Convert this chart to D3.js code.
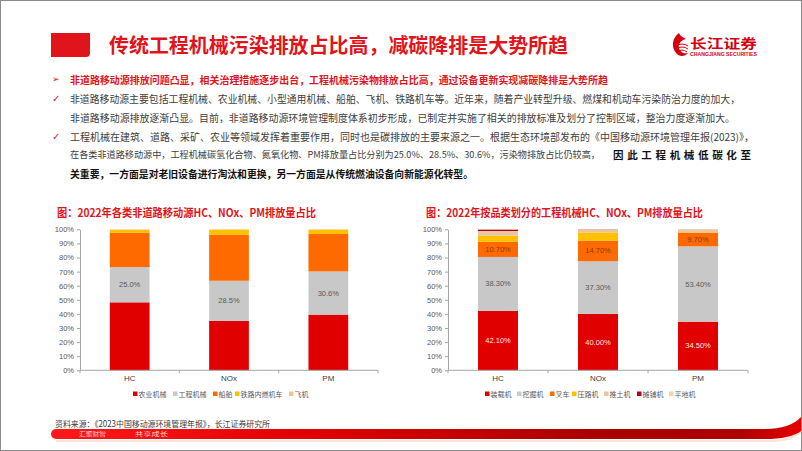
<!DOCTYPE html>
<html><head><meta charset="utf-8">
<script src="https://cdn.jsdelivr.net/npm/d3@7"></script>
<style>
html,body{margin:0;padding:0;background:#fff;}
svg{display:block;}
text{font-family:"Noto Sans CJK SC","Liberation Sans",sans-serif;}
</style></head>
<body>
<svg id="c" width="802" height="451"></svg>
<script>
// ---------- DATA ----------
const categories = ["HC", "NOx", "PM"];
const yTicks = [0, 10, 20, 30, 40, 50, 60, 70, 80, 90, 100];

// Chart 1: 2022年各类非道路移动源HC、NOx、PM排放量占比 (%)
const leftSeriesNames = ["农业机械", "工程机械", "船舶", "铁路内燃机车", "飞机"];
const agriMachinery = [48.2, 35.0, 39.5];
const constructionMachinery = [25.0, 28.5, 30.6];
const ships = [24.4, 32.6, 26.6];
const railwayLocomotives = [2.0, 3.7, 3.1];
const aircraft = [0.4, 0.2, 0.2];
const leftLabels = ["25.0%", "28.5%", "30.6%"];

// Chart 2: 2022年按品类划分的工程机械HC、NOx、PM排放量占比 (%)
const rightSeriesNames = ["装载机", "挖掘机", "叉车", "压路机", "推土机", "摊铺机", "平地机"];
const loaders = [42.1, 40.0, 34.5];
const excavators = [38.3, 37.3, 53.4];
const forklifts = [10.7, 14.7, 9.7];
const rollers = [4.3, 5.8, 0.3];
const bulldozers = [3.4, 1.8, 1.8];
const pavers = [1.0, 0.2, 0.1];
const graders = [0.2, 0.2, 0.2];

// ---------- STYLE ----------
const RED = "#E0141B";
const leftColors = ["#E00000", "#C8C8C8", "#FF6A00", "#FFC000", "#F2C48E"];
const rightColors = ["#E00000", "#C8C8C8", "#FF6A00", "#FFC000", "#EAC69A", "#B0001A", "#F9D2A8"];

const svg = d3.select("#c");
svg.append("rect").attr("x", 0).attr("y", 0).attr("width", 802).attr("height", 451).attr("fill", "#fff");

// ---------- HEADER ----------
svg.append("path").attr("d", "M51,33 H90 V53 Q90,57 86,57 H51 Z").attr("fill", RED);
function txt(x, y, s, size, opts = {}) {
  const t = svg.append("text").attr("x", x).attr("y", y).text(s)
    .attr("font-size", size).attr("dominant-baseline", "central")
    .attr("fill", opts.fill || "#404040")
    .attr("font-weight", opts.bold ? "bold" : "normal");
  if (opts.len) t.attr("textLength", opts.len).attr("lengthAdjust", opts.adjust || "spacingAndGlyphs");
  if (opts.anchor) t.attr("text-anchor", opts.anchor);
  if (opts.family) t.style("font-family", opts.family);
  return t;
}
txt(109, 44, "传统工程机械污染排放占比高，减碳降排是大势所趋", 20, {fill: RED, bold: true, len: 459});

// logo
const lg = svg.append("g");
lg.append("path").attr("d", "M679,33 C672,38 671,47 676,53 C679,57 685,57 688,53 C684,54 680,52 679,48 C678,44 681,40 686,39 C683,37 680,36 679,33 Z").attr("fill", "#D7000F");
lg.append("path").attr("d", "M676,46 Q682,42 688,46 M676,49 Q682,45 688,49 M677,52 Q682,48 687,52").attr("stroke", "#D7000F").attr("stroke-width", 1).attr("fill", "none");
txt(690, 42, "长江证券", 13, {fill: "#D7000F", bold: true, len: 67});
txt(690, 54, "CHANGJIANG SECURITIES", 4.5, {fill: "#D7000F", bold: true, len: 67, family: "Liberation Sans"});

// ---------- BODY TEXT ----------
txt(52, 79, "➢", 9, {fill: RED, family: "DejaVu Sans"});
txt(70, 79, "非道路移动源排放问题凸显，相关治理措施逐步出台，工程机械污染物排放占比高，通过设备更新实现减碳降排是大势所趋", 10, {fill: RED, bold: true, len: 538});
txt(52, 98, "✓", 10, {fill: RED, family: "DejaVu Sans"});
txt(70, 98, "非道路移动源主要包括工程机械、农业机械、小型通用机械、船舶、飞机、铁路机车等。近年来，随着产业转型升级、燃煤和机动车污染防治力度的加大，", 10, {len: 670});
txt(70, 117, "非道路移动源排放逐渐凸显。目前，非道路移动源环境管理制度体系初步形成，已制定并实施了相关的排放标准及划分了控制区域，整治力度逐渐加大。", 10, {len: 665});
txt(52, 136, "✓", 10, {fill: RED, family: "DejaVu Sans"});
txt(70, 136, "工程机械在建筑、道路、采矿、农业等领域发挥着重要作用，同时也是碳排放的主要来源之一。根据生态环境部发布的《中国移动源环境管理年报(2023)》，", 10, {len: 684});
txt(70, 154, "在各类非道路移动源中，工程机械碳氢化合物、氮氧化物、PM排放量占比分别为25.0%、28.5%、30.6%，污染物排放占比仍较高，", 9.3, {len: 530});
txt(613, 154, "因此工程机械低碳化至", 10.5, {fill: "#111", bold: true, len: 138, adjust: "spacing"});
txt(70, 173, "关重要，一方面是对老旧设备进行淘汰和更换，另一方面是从传统燃油设备向新能源化转型。", 10, {fill: "#111", bold: true, len: 403});

// ---------- CHARTS ----------
function drawChart(cfg) {
  const x = d3.scaleBand().domain(categories).range([cfg.x0, cfg.x1]).paddingInner(0.6).paddingOuter(0.3);
  const y = d3.scaleLinear().domain([0, 100]).range([370.3, 229.3]);
  const rows = categories.map((c, i) => {
    const r = {cat: c};
    cfg.names.forEach((n, k) => r[n] = cfg.values[k][i]);
    return r;
  });
  const stacked = d3.stack().keys(cfg.names)(rows);
  const g = svg.append("g");
  txt(cfg.titleX, 212, cfg.title, 11, {fill: RED, bold: true, len: cfg.titleLen});
  stacked.forEach((s, k) => {
    g.selectAll(null).data(s).enter().append("rect")
      .attr("x", d => x(d.data.cat)).attr("width", x.bandwidth())
      .attr("y", d => y(d[1])).attr("height", d => Math.max(0, y(d[0]) - y(d[1])))
      .attr("fill", cfg.colors[k]);
  });
  cfg.labels.forEach(lb => {
    const s = stacked[lb.series];
    s.forEach((d, i) => {
      txt(x(d.data.cat) + x.bandwidth() / 2, (y(d[0]) + y(d[1])) / 2, lb.text[i], 7.5,
        {fill: lb.fill, anchor: "middle", family: "Liberation Sans"});
    });
  });
  const ya = g.append("g").attr("transform", `translate(${cfg.x0},0)`)
    .call(d3.axisLeft(y).tickValues(yTicks).tickFormat(d => d + "%").tickSize(3).tickSizeOuter(0));
  ya.select(".domain").attr("stroke", "#A6A6A6");
  ya.selectAll(".tick line").attr("stroke", "#A6A6A6");
  ya.selectAll(".tick text").attr("font-size", 7.5).attr("fill", "#595959").attr("x", -6)
    .style("font-family", "Liberation Sans");
  g.append("line").attr("x1", cfg.x0).attr("x2", cfg.x1).attr("y1", y(0)).attr("y2", y(0)).attr("stroke", "#A6A6A6");
  const bounds = [cfg.x0].concat(categories.map(c => x(c) - x.step() * x.paddingInner() / 2 + x.step()));
  bounds.forEach(b => g.append("line").attr("x1", b).attr("x2", b).attr("y1", y(0)).attr("y2", y(0) + 3).attr("stroke", "#A6A6A6"));
  categories.forEach(c => txt(x(c) + x.bandwidth() / 2, 378.5, c, 8, {fill: "#404040", anchor: "middle", family: "Liberation Sans"}));
  cfg.names.forEach((n, k) => {
    const lx = cfg.legendX[k];
    g.append("rect").attr("x", lx).attr("y", 391.5).attr("width", 4.5).attr("height", 4.5).attr("fill", cfg.colors[k]);
    txt(lx + 5.5, 394, n, 7, {fill: "#595959"});
  });
}

drawChart({
  x0: 80, x1: 378, names: leftSeriesNames,
  values: [agriMachinery, constructionMachinery, ships, railwayLocomotives, aircraft],
  colors: leftColors,
  title: "图：2022年各类非道路移动源HC、NOx、PM排放量占比", titleX: 57, titleLen: 259,
  labels: [{series: 1, text: leftLabels, fill: "#595959"}],
  legendX: [133, 173, 213, 235, 289]
});

drawChart({
  x0: 448, x1: 748, names: rightSeriesNames,
  values: [loaders, excavators, forklifts, rollers, bulldozers, pavers, graders],
  colors: rightColors,
  title: "图：2022年按品类划分的工程机械HC、NOx、PM排放量占比", titleX: 426, titleLen: 277,
  labels: [
    {series: 0, text: loaders.map(v => v.toFixed(2) + "%"), fill: "#FFE8E8"},
    {series: 1, text: excavators.map(v => v.toFixed(2) + "%"), fill: "#595959"},
    {series: 2, text: forklifts.map(v => v.toFixed(2) + "%"), fill: "#8A3A00"}
  ],
  legendX: [485, 517, 550, 572, 604, 637, 669]
});

// ---------- FOOTER ----------
txt(55, 423, "资料来源：《2023中国移动源环境管理年报》，长江证券研究所", 8.5, {fill: "#404040", len: 215});
const defs = svg.append("defs");
const grad = defs.append("linearGradient").attr("id", "fg").attr("x1", "0").attr("x2", "1");
[[0, "#FF1A1A"], [0.35, "#E00000"], [0.75, "#A80000"], [0.92, "#B00000"], [1, "#E60000"]]
  .forEach(([o, c]) => grad.append("stop").attr("offset", o).attr("stop-color", c));
svg.append("path").attr("d", "M56,440 L770,440 Q792,440 801,428 L801,433 Q792,442 770,442 L56,442 Z").attr("fill", "#FBE3D6");
svg.append("path").attr("d", "M56,429 L765,429 Q790,429 801,417 L801,431 Q790,439 765,439 L56,439 A5,5 0 0 1 56,429 Z").attr("fill", "url(#fg)");
txt(79, 434, "汇聚财智", 5.5, {fill: "#FFD8D8", len: 27});
txt(135, 434, "共享成长", 5.5, {fill: "#FFD8D8", len: 33});

svg.append("rect").attr("x", 0.5).attr("y", 0.5).attr("width", 801).attr("height", 450)
  .attr("fill", "none").attr("stroke", "#8C8C8C").attr("stroke-width", 1);
</script>
</body></html>
